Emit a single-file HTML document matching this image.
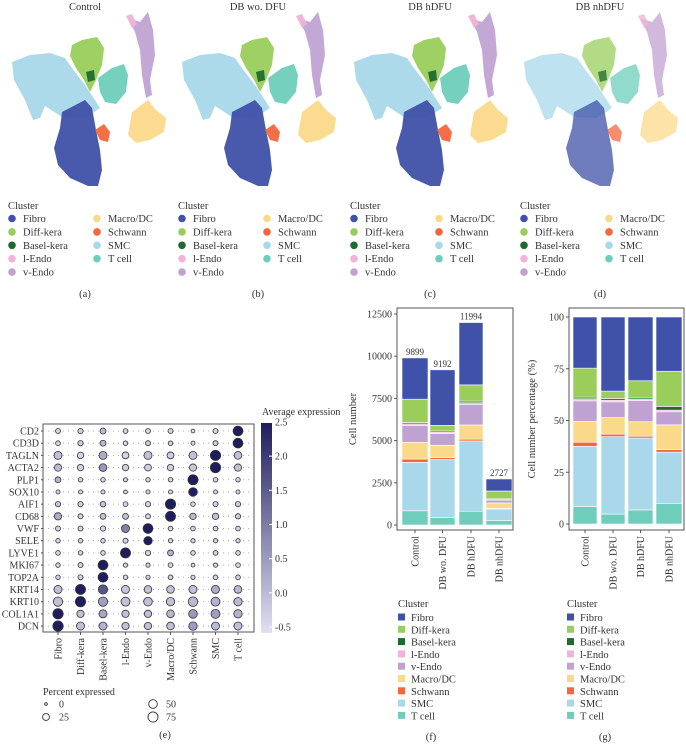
<!DOCTYPE html>
<html><head><meta charset="utf-8">
<style>
html,body{margin:0;padding:0;background:#fff;}
svg{display:block;font-family:"Liberation Serif",serif;}
</style></head>
<body>
<svg id="fig" width="686" height="744" viewBox="0 0 686 744" xmlns="http://www.w3.org/2000/svg">
<g id="umaps"></g>
<g id="dotplot"></g>
<g id="barf"></g>
<g id="barg"></g>
</svg>
<script>
const NS="http://www.w3.org/2000/svg";
function mk(tag,attrs,parent,text){const e=document.createElementNS(NS,tag);for(const k in attrs)e.setAttribute(k,attrs[k]);if(text!==undefined)e.textContent=text;parent.appendChild(e);return e;}

// ---------- data ----------
const clusters=["Fibro","Diff-kera","Basel-kera","l-Endo","v-Endo","Macro/DC","Schwann","SMC","T cell"];
const clusterColors=["#3f51a8","#9acd5b","#1f6b2e","#f1b3d6","#c0a2d2","#fbd98a","#f4673c","#a8d8ea","#6ecdbb"];
const samples=["Control","DB wo. DFU","DB hDFU","DB nhDFU"];
const totals=[9899,9192,11994,2727];
const countsControl=[2445,1386,79,99,990,990,198,2871,841];
const countsDBwo=[3290,331,74,74,699,735,110,3438,441];
const countsHDFU=[3693,960,96,96,1223,840,108,4162,816];
const countsNHDFU=[713,464,49,22,172,327,33,674,273];
const pctControl=[24.7,14,0.8,1,10,10,2,29,8.5];
const pctDBwo=[35.8,3.6,0.8,0.8,7.6,8,1.2,37.4,4.8];
const pctHDFU=[30.8,8,0.8,0.8,10.2,7,0.9,34.7,6.8];
const pctNHDFU=[26.2,17,1.8,0.8,6.3,12,1.2,24.7,10];
const countTicks=[0,2500,5000,7500,10000,12500];
const pctTicks=[0,25,50,75,100];

const genes=["CD2","CD3D","TAGLN","ACTA2","PLP1","SOX10","AIF1","CD68","VWF","SELE","LYVE1","MKI67","TOP2A","KRT14","KRT10","COL1A1","DCN"];
const pctExpressed=[
[8,10,15,6,8,8,2,8,70],
[6,10,15,5,8,5,3,8,70],
[40,20,40,25,40,25,40,80,35],
[30,20,35,20,25,20,30,80,30],
[15,5,5,3,5,5,75,5,5],
[3,3,3,2,3,3,50,3,3],
[10,10,12,6,10,80,5,8,10],
[30,8,15,15,8,75,20,20,10],
[8,8,10,40,70,6,6,6,6],
[5,5,5,8,45,4,4,4,4],
[6,5,6,75,10,15,6,6,6],
[5,8,70,4,4,6,2,4,6],
[5,8,70,5,4,6,4,6,6],
[40,75,60,40,35,35,40,40,35],
[60,80,60,55,50,45,65,55,45],
[80,30,40,30,30,35,50,55,45],
[80,40,40,30,30,35,45,40,40]];
const avgExpr=[
[-0.3,-0.2,0.1,-0.3,-0.3,-0.3,-0.4,-0.3,2.5],
[-0.3,-0.2,0.1,-0.3,-0.2,-0.3,-0.3,-0.2,2.5],
[0,-0.3,0.3,-0.3,0,-0.2,0,2.5,0],
[0.1,-0.2,0.6,-0.2,-0.2,-0.2,-0.1,2.5,0],
[0.2,-0.3,-0.3,-0.3,-0.3,-0.3,2.5,-0.3,-0.3],
[-0.3,-0.3,-0.3,-0.3,-0.3,-0.3,2.5,-0.3,-0.3],
[-0.1,-0.2,-0.1,-0.3,-0.3,2.5,-0.3,-0.3,-0.2],
[0.3,-0.3,0,0,-0.3,2.5,0.1,0,-0.2],
[-0.3,-0.3,-0.3,1.0,2.5,-0.3,-0.3,-0.3,-0.3],
[-0.3,-0.3,-0.3,-0.3,2.5,-0.3,-0.3,-0.3,-0.3],
[-0.3,-0.3,-0.3,2.5,-0.3,0.2,-0.3,-0.3,-0.3],
[-0.3,-0.3,2.5,-0.3,-0.3,-0.3,-0.4,-0.3,-0.3],
[-0.3,-0.3,2.5,-0.3,-0.3,-0.3,-0.3,-0.3,-0.3],
[0,2.5,1.6,-0.1,0,0,0,0.3,0.1],
[0,2.5,0.5,0,0,0,0.1,0.2,0.1],
[2.5,0,0.4,0,0,0.1,0.6,0.5,0.2],
[2.5,0,0.2,0,0,0,0.5,0.1,0]];
const exprTicks=[-0.5,0,0.5,1,1.5,2,2.5];

// ---------- UMAP panels (schematic shapes) ----------
const umapShapes=[
 [7,"M12,62 L30,55 L50,53 L65,58 L72,68 L85,85 L100,108 L85,118 L62,117 L45,106 L40,118 L33,120 L25,100 L14,80 Z"],
 [0,"M62,112 L85,100 L92,108 L96,130 L100,150 L102,170 L98,186 L88,186 L70,178 L58,165 L54,148 L60,128 Z"],
 [1,"M72,45 L82,40 L97,37 L104,48 L102,65 L96,80 L90,92 L84,80 L76,68 L70,56 Z"],
 [8,"M98,78 L112,68 L124,64 L128,75 L126,92 L116,104 L105,102 L100,92 Z"],
 [4,"M128,18 L140,22 L148,12 L153,30 L155,55 L150,80 L152,95 L146,98 L142,75 L140,50 L135,32 Z"],
 [3,"M126,16 L132,14 L137,24 L132,28 Z"],
 [5,"M132,112 L148,100 L156,110 L166,118 L164,132 L150,140 L136,143 L128,135 Z"],
 [6,"M95,130 L104,124 L110,132 L108,142 L100,140 Z"],
 [2,"M86,72 L94,70 L95,80 L88,82 Z"]];
const umapTitles=["Control","DB wo. DFU","DB hDFU","DB nhDFU"];
const umapLetters=["(a)","(b)","(c)","(d)"];
const umapTitleX=[85,88,88,88];
const um=document.getElementById("umaps");
[0,170,342,512].forEach((ox,pi)=>{
  const g=mk("g",{transform:`translate(${ox},0)`},um);
  
  
  const t=mk("text",{x:umapTitleX[pi],y:10,"text-anchor":"middle","font-size":"10.5",fill:"#333"},g,umapTitles[pi]);
  
  
  umapShapes.forEach(s=>{
    const p=mk("path",{d:s[1],fill:clusterColors[s[0]],opacity:pi===3?0.75:0.95},g);
    
    
  });
  const lg=mk("g",{transform:"translate(8,0)"},g);
  
  
  mk("text",{x:0,y:209,"font-size":"10.5",fill:"#333"},lg,"Cluster");
  clusters.forEach((c,i)=>{
    const col=i<5?0:1,row=i<5?i:i-5;
    const cx=col?89:4, y=222+row*13.4;
    const e=mk("circle",{cx:cx,cy:y-3.5,r:3.8,fill:clusterColors[i]},lg);
    
    
    const tt=mk("text",{x:cx+11,y:y,"font-size":"10.5",fill:"#333"},lg,c);
    
    
  });
  mk("text",{x:umapTitleX[pi],y:297,"text-anchor":"middle","font-size":"10.5",fill:"#333"},g,umapLetters[pi]);
});

// ---------- Dot plot ----------
const dp=document.getElementById("dotplot");
const px0=43,px1=254,py0=424,py1=632;
const colX=i=>58+i*22.5, rowY=j=>431+j*12.19;
const radius=p=>1.3+4.3*Math.sqrt(p/100);
function exprColor(v){const t=Math.max(0,Math.min(1,(v+0.5)/3));const a=[225,224,242],b=[31,29,94];return `rgb(${a.map((x,i)=>Math.round(x+(b[i]-x)*t)).join(",")})`;}
mk("rect",{x:px0,y:py0,width:px1-px0,height:py1-py0,fill:"none",stroke:"#555","stroke-width":1},dp);
genes.forEach((gname,j)=>{
  mk("line",{x1:px0,x2:px1,y1:rowY(j),y2:rowY(j),stroke:"#999","stroke-width":0.8,"stroke-dasharray":"1,4"},dp);
  const lab=mk("text",{x:px0-4,y:rowY(j)+3.5,"text-anchor":"end","font-size":"10",fill:"#333"},dp,gname);
  
  
  mk("line",{x1:px0-2,x2:px0,y1:rowY(j),y2:rowY(j),stroke:"#555"},dp);
  clusters.forEach((c,i)=>{
    const d=mk("circle",{cx:colX(i),cy:rowY(j),r:radius(pctExpressed[j][i]),fill:exprColor(avgExpr[j][i]),stroke:"#333","stroke-width":0.8},dp);
    
    
  });
});
clusters.forEach((c,i)=>{
  mk("line",{x1:colX(i),x2:colX(i),y1:py1,y2:py1+3,stroke:"#555"},dp);
  const t=mk("text",{x:0,y:0,transform:`translate(${colX(i)+3.5},${py1+6}) rotate(-90)`,"text-anchor":"end","font-size":"10",fill:"#333"},dp,c);
  
  
});
const defs=mk("defs",{},dp);
const lgr=mk("linearGradient",{id:"cb",x1:0,y1:1,x2:0,y2:0},defs);
mk("stop",{offset:"0",["stop-color"]:exprColor(-0.5)},lgr);
mk("stop",{offset:"0.5",["stop-color"]:exprColor(1)},lgr);
mk("stop",{offset:"1",["stop-color"]:exprColor(2.5)},lgr);
const cb=mk("rect",{x:261,y:423,width:11,height:210,fill:"url(#cb)"},dp);


mk("text",{x:262,y:415,"font-size":"10",fill:"#333"},dp,"Average expression");
const cbY=v=>627-(v+0.5)/3*205;
exprTicks.forEach(v=>{
  mk("line",{x1:269,x2:272,y1:cbY(v),y2:cbY(v),stroke:"#fff"},dp);
  mk("text",{x:275,y:cbY(v)+3.5,"font-size":"10",fill:"#333"},dp,v.toFixed(1));
});
mk("text",{x:43,y:695,"font-size":"10",fill:"#333"},dp,"Percent expressed");
[[0,46,704],[25,46,717],[50,153,704],[75,153,717]].forEach(a=>{
  mk("circle",{cx:a[1],cy:a[2],r:radius(a[0]),fill:"none",stroke:"#333","stroke-width":0.9},dp);
  mk("text",{x:a[1]+13,y:a[2]+3.5,"font-size":"10",fill:"#333"},dp,String(a[0]));
});
mk("text",{x:165,y:738,"text-anchor":"middle","font-size":"10.5",fill:"#333"},dp,"(e)");

// ---------- stacked bar charts ----------
function stacked(gid,box,bars,maxV,ticks,ytitle,titleX,data,labels,legX,letter,letterX){
  const g=document.getElementById(gid);
  const y=v=>box.y0-(v/maxV)*(box.y0-box.yTop);
  mk("rect",{x:box.x0,y:box.top,width:box.x1-box.x0,height:box.bottom-box.top,fill:"none",stroke:"#555","stroke-width":1},g);
  ticks.forEach(v=>{
    mk("line",{x1:box.x0-3,x2:box.x0,y1:y(v),y2:y(v),stroke:"#555"},g);
    mk("text",{x:box.x0-5,y:y(v)+3.5,"text-anchor":"end","font-size":"10",fill:"#333"},g,String(v));
  });
  mk("text",{x:0,y:0,transform:`translate(${titleX},${(box.top+box.bottom)/2}) rotate(-90)`,"text-anchor":"middle","font-size":"10.5",fill:"#333"},g,ytitle);
  data.forEach((vals,bi)=>{
    const bx=bars[bi][0],bw=bars[bi][1];let acc=0;
    for(let k=clusters.length-1;k>=0;k--){
      const r=mk("rect",{x:bx,y:y(acc+vals[k]),width:bw,height:y(acc)-y(acc+vals[k]),fill:clusterColors[k],stroke:"#fff","stroke-width":0.6},g);
      
      
      acc+=vals[k];
    }
    if(labels){const t=mk("text",{x:bx+bw/2,y:y(acc)-3,"text-anchor":"middle","font-size":"9",fill:"#333"},g,String(labels[bi]));
      
      }
    mk("line",{x1:bx+bw/2,x2:bx+bw/2,y1:box.bottom,y2:box.bottom+3,stroke:"#555"},g);
    const xl=mk("text",{x:0,y:0,transform:`translate(${bx+bw/2+3.5},${box.bottom+6}) rotate(-90)`,"text-anchor":"end","font-size":"10",fill:"#333"},g,samples[bi]);
    
    
  });
  const lg=mk("g",{},g);
  
  
  mk("text",{x:legX,y:607,"font-size":"10.5",fill:"#333"},lg,"Cluster");
  clusters.forEach((c,i)=>{
    const yy=621+i*12.3;
    mk("rect",{x:legX,y:yy-7.5,width:7,height:7,fill:clusterColors[i]},lg);
    const t=mk("text",{x:legX+13,y:yy,"font-size":"10.5",fill:"#333"},lg,c);
    
    
  });
  mk("text",{x:letterX,y:740,"text-anchor":"middle","font-size":"10.5",fill:"#333"},g,letter);
}
stacked("barf",{x0:397,x1:513,top:308,bottom:530,y0:525,yTop:314},[[402,26],[430,25],[459,24],[486,26]],12500,countTicks,"Cell number",356,
  [countsControl,countsDBwo,countsHDFU,countsNHDFU],totals,398,"(f)",431);
stacked("barg",{x0:569,x1:684,top:308,bottom:530,y0:524,yTop:317},[[573,24],[601,24],[628,25],[656,26]],100,pctTicks,"Cell number percentage (%)",535,
  [pctControl,pctDBwo,pctHDFU,pctNHDFU],null,567,"(g)",605);
</script>
</body></html>
